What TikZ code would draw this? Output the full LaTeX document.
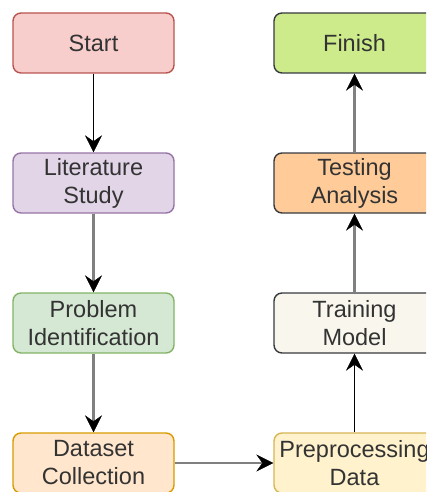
\documentclass[tikz,border=0pt]{standalone}
\usepackage{fontspec}
\setmainfont{Liberation Sans}
\usetikzlibrary{arrows.meta}

\definecolor{txt}{HTML}{333333}
\definecolor{redfill}{HTML}{F8CECC}\definecolor{redline}{HTML}{B85450}
\definecolor{purfill}{HTML}{E1D5E7}\definecolor{purline}{HTML}{9673A6}
\definecolor{grnfill}{HTML}{D5E8D4}\definecolor{grnline}{HTML}{82B366}
\definecolor{orgfill}{HTML}{FFE6CC}\definecolor{orgline}{HTML}{D79B00}
\definecolor{yelfill}{HTML}{FFF2CC}\definecolor{yelline}{HTML}{D6B656}
\definecolor{beigefill}{HTML}{F9F7ED}\definecolor{darkline}{HTML}{36393D}
\definecolor{peachfill}{HTML}{FFCC99}
\definecolor{limefill}{HTML}{CDEB8B}
\definecolor{edgegray}{HTML}{808080}

\tikzset{
  stepbox/.style={rectangle, rounded corners=8pt, line width=1.4pt,
    minimum width=161pt, minimum height=60pt, align=center,
    text=txt, font=\fontsize{23.5}{28}\selectfont, inner sep=0pt},
  flowtip/.style={-{Stealth[length=17pt,width=17pt,inset=6pt,line width=0.5pt,black,fill=black]}},
  thinflow/.style={flowtip, line width=1.5pt, draw=black},
  thickflow/.style={flowtip, line width=2.8pt, draw=edgegray},
}

\begin{document}
\begin{tikzpicture}[x=1pt,y=-1pt]
\useasboundingbox (0,0) rectangle (426,492);
\clip (0,0) rectangle (426,492);

\node[stepbox, fill=redfill, draw=redline] (start) at (93.5,43) {Start};
\node[stepbox, fill=purfill, draw=purline] (lit) at (93.5,183) {Literature\\Study};
\node[stepbox, fill=grnfill, draw=grnline] (prob) at (93.5,323) {Problem\\Identification};
\node[stepbox, fill=orgfill, draw=orgline] (data) at (93.5,463) {Dataset\\Collection};

\node[stepbox, fill=yelfill, draw=yelline] (prep) at (354.5,463) {Preprocessing\\Data};
\node[stepbox, fill=beigefill, draw=darkline] (train) at (354.5,323) {Training\\Model};
\node[stepbox, fill=peachfill, draw=darkline] (test) at (354.5,183) {Testing\\Analysis};
\node[stepbox, fill=limefill, draw=darkline] (finish) at (354.5,43) {Finish};

\draw[thinflow] (start) -- (lit);
\draw[thickflow] (lit) -- (prob);
\draw[thickflow] (prob) -- (data);
\draw[thickflow] (data) -- (prep);
\draw[thinflow] (prep) -- (train);
\draw[thickflow] (train) -- (test);
\draw[thickflow] (test) -- (finish);
\end{tikzpicture}
\end{document}
